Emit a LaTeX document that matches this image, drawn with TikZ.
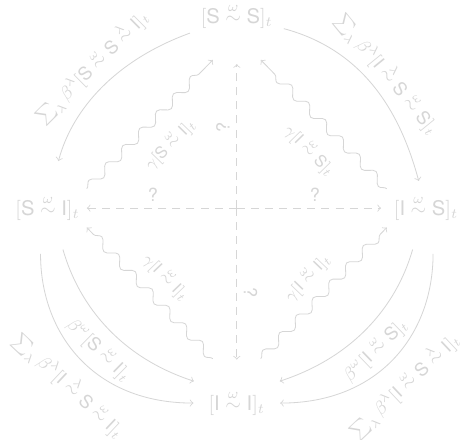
\documentclass[tikz,border=0pt]{standalone}
\usepackage{amsmath}
\usepackage{fontspec}
\setmainfont{TeX Gyre Heros}
\setsansfont{TeX Gyre Heros}
\usepackage{tikz}
\usetikzlibrary{calc,decorations.pathmorphing}
\usepackage{xcolor}
\definecolor{faint}{HTML}{D6D6D6}

\newcommand{\pairt}[3]{[\mathsf{#1}\overset{#2}{\sim}\mathsf{#3}]_t}
\newcommand{\triad}[5]{[\mathsf{#1}\overset{#2}{\sim}\mathsf{#3}\overset{#4}{\sim}\mathsf{#5}]_t}

\begin{document}
\begin{tikzpicture}[
    color=faint,
    flow/.style={->},
    wave/.style={
      ->,
      decorate,
      decoration={snake, amplitude=2.2pt, segment length=12pt, post length=4pt}
    },
    guess/.style={->, dash pattern=on 4pt off 3pt},
    lbl/.style={font=\small, sloped},
    wlbl/.style={font=\footnotesize, sloped}
  ]

    \path[use as bounding box, fill=white] (-4.13,-4.03) rectangle (4.05,3.63);

    % Estados
    \node (SS) at (0,3.35) {$\pairt{S}{\omega}{S}$};
    \node (SI) at (-3.3,0) {$\pairt{S}{\omega}{I}$};
    \node (IS) at (3.3,0) {$\pairt{I}{\omega}{S}$};
    \node (II) at (0,-3.4) {$\pairt{I}{\omega}{I}$};
    \coordinate (C) at (0,0);

    % Preguntas
    \draw[guess, shorten >=0.5cm] (C) -- node[lbl, above, pos=0.47] {?} (SS);
    \draw[guess] (C) -- node[lbl, above, pos=0.56] {?} (SI);
    \draw[guess, shorten >=0.1cm] (C) -- node[lbl, above, pos=0.52] {?} (IS);
    \draw[guess, shorten >=0.42cm] (C) -- node[lbl, above, pos=0.48] {?} (II);

    % Recuperaciones
    \draw[wave] (SI.north east) -- node[wlbl, below=5pt] {$\gamma\pairt{S}{\omega}{I}$}
      ($(SI.north east)!0.84!(SS.south)$);
    \draw[wave] (IS.north west) -- node[wlbl, below=5pt, pos=0.45] {$\gamma\pairt{I}{\omega}{S}$}
      ($(IS.north west)!0.84!(SS.south)$);
    \draw[wave] ($(SI.south east)!0.84!(II.north)$) -- node[wlbl, above=3pt]
      {$\gamma\pairt{I}{\omega}{I}$} (SI.south east);
    \draw[wave] ($(IS.south west)!0.84!(II.north)$) -- node[wlbl, above=3pt]
      {$\gamma\pairt{I}{\omega}{I}$} (IS.south west);

    % Infecciones
    \draw[flow, shorten <=2pt, shorten >=0.5cm] (SS.200) to[out=200, in=75]
      node[lbl, above=2pt, pos=0.45] {$\sum_\lambda \beta^\lambda\triad{S}{\omega}{S}{\lambda}{I}$} (SI.80);
    \draw[flow, shorten <=2pt, shorten >=0.14cm] (SS.-15) to[out=-15, in=105]
      node[lbl, above] {$\sum_\lambda \beta^\lambda\triad{I}{\lambda}{S}{\omega}{S}$} (IS.105);
    \draw[flow, shorten <=0.46cm, shorten >=0.14cm] (SI.250) to[out=-90, in=180, looseness=1.15]
      node[lbl, below=4pt, pos=0.55] {$\sum_\lambda \beta^\lambda\triad{I}{\lambda}{S}{\omega}{I}$} (II.west);
    \draw[flow, shorten <=0.4cm, shorten >=0.14cm] (SI.295) to[out=-74, in=162]
      node[lbl, below=2pt, pos=0.55] {$\beta^\omega\pairt{S}{\omega}{I}$} (II.north west);
    \draw[flow, shorten <=0.4cm, shorten >=0.14cm] (IS.250) to[out=-106, in=18]
      node[lbl, below=2pt, pos=0.55] {$\beta^\omega\pairt{I}{\omega}{S}$} (II.north east);
    \draw[flow, shorten <=0.46cm, shorten >=0.14cm] (IS.290) to[out=-90, in=0, looseness=1.15]
      node[lbl, below=4pt, pos=0.55] {$\sum_\lambda \beta^\lambda\triad{I}{\omega}{S}{\lambda}{I}$} (II.east);

  \end{tikzpicture}
\end{document}
